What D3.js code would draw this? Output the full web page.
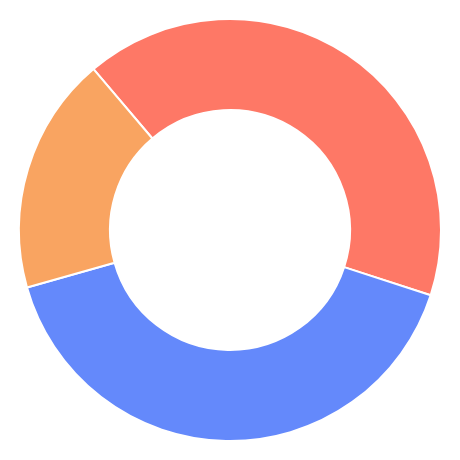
<!DOCTYPE html>
<html>
<head>
<meta charset="utf-8">
<script src="https://cdn.jsdelivr.net/npm/d3@7"></script>
<style>
  html, body { margin: 0; padding: 0; background: #fff; }
</style>
</head>
<body>
<div id="chart"></div>
<script>
// Data (share of the ring, clockwise from red)
var categories = ["A", "B", "C"];
var values = [41.2, 40.6, 18.2];
var colors = ["#fe7866", "#6489fb", "#f9a461"];

// Dimensions
var width = 460;
var height = 460;
var outerRadius = 211;
var innerRadius = 120;

var svg = d3.select("#chart")
    .append("svg")
    .attr("width", width)
    .attr("height", height)
    .append("g")
    .attr("transform", "translate(" + (width / 2) + "," + (height / 2) + ")");

var color = d3.scaleOrdinal().domain(categories).range(colors);

var startAngle = -40.3 * Math.PI / 180;

var pie = d3.pie()
    .sort(null)
    .startAngle(startAngle)
    .endAngle(startAngle + 2 * Math.PI)
    .value(function (d, i) { return values[i]; });

var arc = d3.arc()
    .innerRadius(innerRadius)
    .outerRadius(outerRadius);

svg.selectAll("path")
    .data(pie(categories))
    .enter()
    .append("path")
    .attr("d", arc)
    .attr("fill", function (d) { return color(d.data); })
    .attr("stroke", "#fff")
    .attr("stroke-width", 2)
    .attr("stroke-linejoin", "round");
</script>
</body>
</html>
